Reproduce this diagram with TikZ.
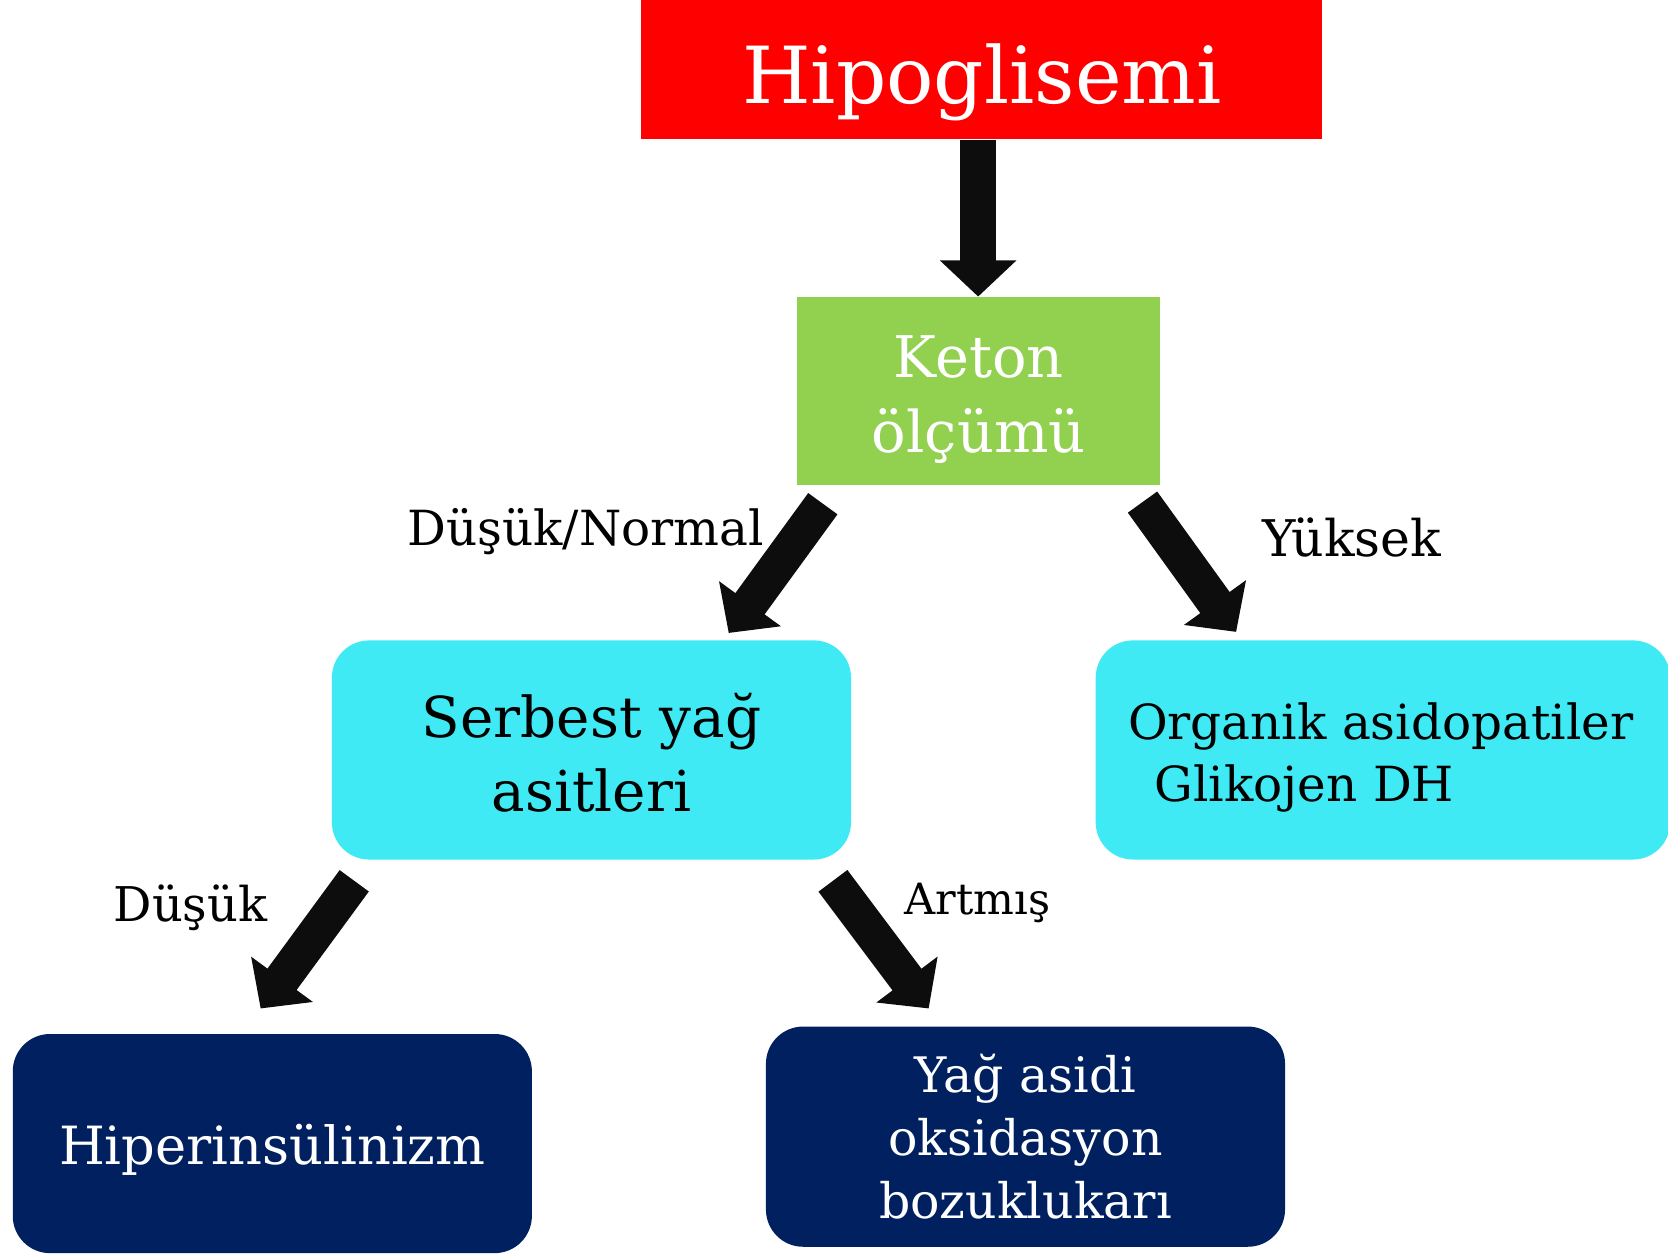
\documentclass[tikz,border=0pt]{standalone}
\usepackage{fontspec}
\setmainfont{DejaVu Serif}
\usetikzlibrary{arrows.meta,calc}
\definecolor{hred}{HTML}{FF0000}
\definecolor{hgreen}{HTML}{92D050}
\definecolor{hcyan}{HTML}{3FEAF4}
\definecolor{hnavy}{HTML}{002060}
\definecolor{harrow}{HTML}{0D0D0D}
\begin{document}
\begin{tikzpicture}[x=1pt,y=-1pt,
  plainbox/.style={draw=none, inner sep=0pt},
  roundbox/.style={draw=none, inner sep=0pt, minimum width=488pt, minimum height=206pt, rounded corners=35pt},
  blockarrow/.style={draw=harrow, line width=34pt, -{Triangle[width=70pt,length=34pt]}},
  txt/.style={anchor=base, inner sep=0pt, align=center},
  lbl/.style={anchor=base, inner sep=0pt, text=black},
]
\useasboundingbox (0,0) rectangle (1568,1179);
% boxes
\node[plainbox, fill=hred, minimum width=640pt, minimum height=131pt] (hypo) at (923,65.5) {};
\node[plainbox, fill=hgreen, minimum width=341pt, minimum height=177pt] (keton) at (919.5,367.5) {};
\node[roundbox, fill=hcyan] (sya) at (556,705) {};
\node[roundbox, fill=hcyan, minimum width=540pt] (org) at (1300,705) {};
\node[roundbox, fill=hnavy] (hiper) at (256,1075) {};
\node[roundbox, fill=hnavy, minimum height=207pt] (yao) at (964,1068.5) {};
% texts (base = baseline of last line)
\node[txt, text=white, font=\fontsize{74}{80}\selectfont] (hypoT) at (923,97) {Hipoglisemi};
\node[txt, text=white, font=\fontsize{54}{70}\selectfont] (ketonT) at (920,425) {Keton\\ölçümü};
\node[txt, text=black, font=\fontsize{53}{70}\selectfont] (syaT) at (556,763) {Serbest yağ\\asitleri};
\node[txt, text=black, font=\fontsize{45.5}{58}\selectfont, align=left] (orgT) at (1298,753) {Organik asidopatiler\\\hspace*{0.55em}Glikojen DH};
\node[txt, text=white, font=\fontsize{49.5}{60}\selectfont] (hiperT) at (256,1095) {Hiperinsülinizm};
\node[txt, text=white, font=\fontsize{46}{59}\selectfont] (yaoT) at (964,1145) {Yağ asidi\\oksidasyon\\bozuklukarı};
% labels
\node[lbl, font=\fontsize{45.5}{50}\selectfont] (l1) at (550.5,513) {Düşük/Normal};
\node[lbl, font=\fontsize{47.5}{50}\selectfont] (l2) at (1271,523) {Yüksek};
\node[lbl, font=\fontsize{45}{50}\selectfont] (l3) at (179,866) {Düşük};
\node[lbl, font=\fontsize{40.5}{50}\selectfont] (l4) at (919,860) {Artmış};
% arrow end points
\coordinate (a2s) at (773.5,473.5); \coordinate (a2t) at (685,595);
\coordinate (a3s) at (1074,472);   \coordinate (a3t) at (1162,594);
\coordinate (a4s) at (333,828);    \coordinate (a4t) at (245,948);
\coordinate (a5s) at (783,828);    \coordinate (a5t) at (873,948);
% arrows
\draw[blockarrow] (hypo.south -| keton.north) -- (keton.north);
\draw[blockarrow] (a2s) -- (a2t);
\draw[blockarrow] (a3s) -- (a3t);
\draw[blockarrow] (a4s) -- (a4t);
\draw[blockarrow] (a5s) -- (a5t);
\end{tikzpicture}
\end{document}
